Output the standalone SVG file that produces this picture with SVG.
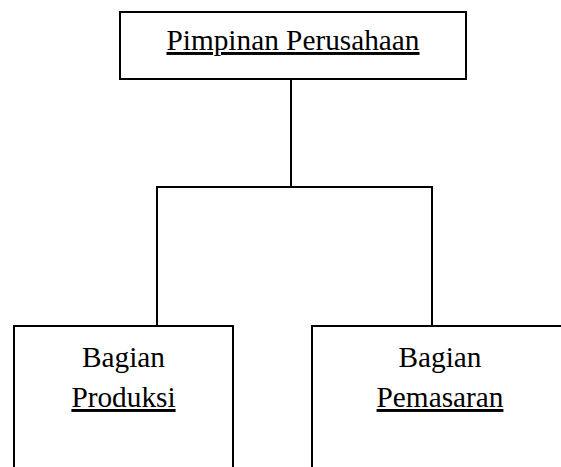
<svg xmlns="http://www.w3.org/2000/svg" width="561" height="467" viewBox="0 0 561 467">
<style>
.box{fill:#fff;stroke:#000;stroke-width:2}
.t{font-family:"Liberation Serif","Times New Roman",serif;font-size:29.3px;fill:#000;text-anchor:middle}
.u{text-decoration:underline}
.c{fill:none;stroke:#000;stroke-width:2}
</style>
<rect width="561" height="467" fill="#fff"/>
<g id="connectors">
<path class="c" d="M291,79 V187 M157,187 H432 M157,186 V326 M432,186 V326"/>
</g>
<g id="pimpinan">
<rect class="box" x="120" y="12" width="346" height="67"/>
<text class="t u" x="293" y="50">Pimpinan Perusahaan</text>
</g>
<g id="produksi">
<rect class="box" x="14" y="326" width="219" height="160"/>
<text class="t" x="123.5" y="367">Bagian</text>
<text class="t u" x="123.5" y="407">Produksi</text>
</g>
<g id="pemasaran">
<rect class="box" x="312" y="326" width="260" height="160"/>
<text class="t" x="440" y="367">Bagian</text>
<text class="t u" x="440" y="407">Pemasaran</text>
</g>
</svg>
